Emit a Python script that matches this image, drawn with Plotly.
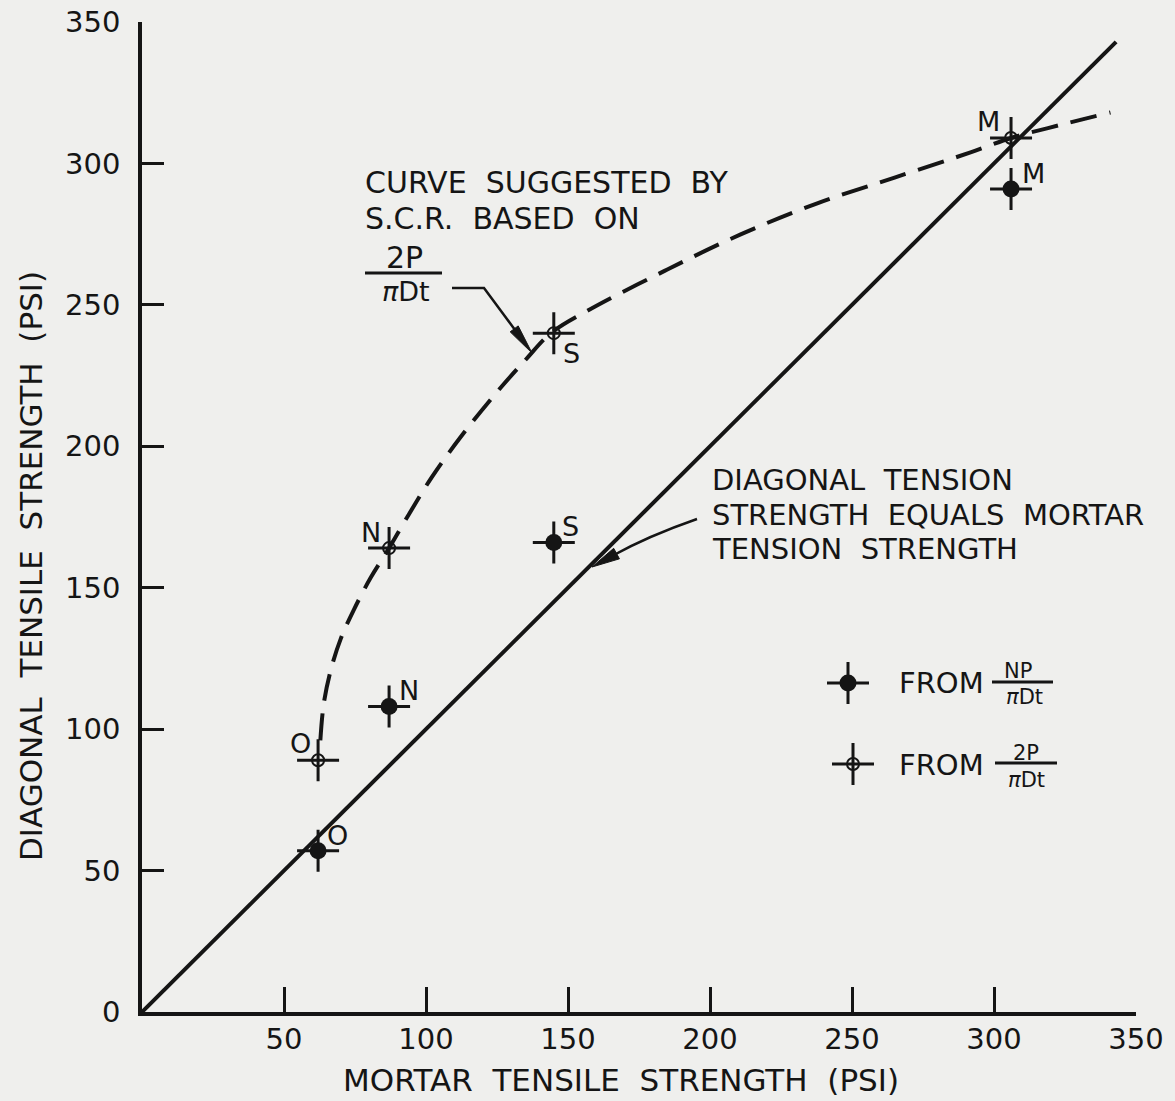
import plotly.graph_objects as go

# ---- data -------------------------------------------------------------
mortar_types = ["O", "N", "S", "M"]
mortar_tensile = [62, 87, 145, 306]          # mortar tensile strength, psi
diag_tensile_np = [57, 108, 166, 291]        # diagonal tensile strength from NP/(pi D t)
diag_tensile_2p = [89, 164, 240, 309]        # diagonal tensile strength from 2P/(pi D t)

# curve suggested by S.C.R. through the 2P/(pi D t) results
scr_curve_x = [62.8, 64, 66.5, 70, 74.5, 80.5, 87, 94, 102, 112, 124, 135, 144,
               157, 184, 211, 238, 265, 292, 306, 319, 341]
scr_curve_y = [96, 109, 121, 132, 142, 153.5, 164, 176, 189, 203, 218, 230.5, 240,
               248, 262, 275, 286, 295, 304, 309, 312.5, 318]

# line of equality: diagonal tension strength = mortar tension strength
equality_x = [0, 343]
equality_y = [0, 343]

x_ticks = [50, 100, 150, 200, 250, 300, 350]
y_ticks = [0, 50, 100, 150, 200, 250, 300, 350]

# ---- styling ----------------------------------------------------------
INK = "#151515"
PAPER = "#efefed"
FONT = "DejaVu Sans"
W, H = 1175, 1101


def fx(px):
    return px / W


def fy(py):
    return 1 - py / H


fig = go.Figure()

fig.add_trace(go.Scatter(x=equality_x, y=equality_y, mode="lines",
                         line=dict(color=INK, width=4), hoverinfo="skip"))
fig.add_trace(go.Scatter(x=scr_curve_x, y=scr_curve_y, mode="lines",
                         line=dict(color=INK, width=4, dash="27px,13px",
                                   shape="spline", smoothing=1.0),
                         hoverinfo="skip"))

cross = dict(symbol="cross-thin", size=30, color=INK, line=dict(color=INK, width=3))
filled = dict(symbol="circle", size=17, color=INK)
hollow = dict(symbol="circle-open", size=12, color=INK, line=dict(color=INK, width=2))

for ys in (diag_tensile_np, diag_tensile_2p):
    fig.add_trace(go.Scatter(x=mortar_tensile, y=ys, mode="markers", marker=cross))
fig.add_trace(go.Scatter(x=mortar_tensile, y=diag_tensile_np, mode="markers",
                         marker=filled, text=mortar_types))
fig.add_trace(go.Scatter(x=mortar_tensile, y=diag_tensile_2p, mode="markers",
                         marker=hollow, text=mortar_types))

# legend keys, placed on a pixel-space overlay
key_x = [848, 853]
key_y = [683, 764]
fig.add_trace(go.Scatter(x=key_x, y=key_y, mode="markers", marker=cross,
                         xaxis="x2", yaxis="y2"))
fig.add_trace(go.Scatter(x=key_x[:1], y=key_y[:1], mode="markers", marker=filled,
                         xaxis="x2", yaxis="y2"))
fig.add_trace(go.Scatter(x=key_x[1:], y=key_y[1:], mode="markers", marker=hollow,
                         xaxis="x2", yaxis="y2"))

annotations = []
shapes = []


def text(t, px, py, size, xanchor="center", angle=0):
    annotations.append(dict(text=t, x=fx(px), y=fy(py), xref="paper", yref="paper",
                            xanchor=xanchor, yanchor="middle", showarrow=False,
                            textangle=angle, font=dict(family=FONT, size=size, color=INK)))


def bar(x0, x1, py, width=3):
    shapes.append(dict(type="line", xref="paper", yref="paper",
                       x0=fx(x0), x1=fx(x1), y0=fy(py), y1=fy(py),
                       line=dict(color=INK, width=width)))


def arrow_head(tail, tip, length=28, half=5):
    dx, dy = tip[0] - tail[0], tip[1] - tail[1]
    n = (dx * dx + dy * dy) ** 0.5
    ux, uy = dx / n, dy / n
    bx, by = tip[0] - ux * length, tip[1] - uy * length
    px_, py_ = -uy * half, ux * half
    pts = [tip, (bx + px_, by + py_), (bx - px_, by - py_)]
    path = "M " + " L ".join(f"{fx(a):.5f},{fy(b):.5f}" for a, b in pts) + " Z"
    shapes.append(dict(type="path", xref="paper", yref="paper", path=path,
                       fillcolor=INK, line=dict(color=INK, width=1)))


# axis titles
text("DIAGONAL  TENSILE  STRENGTH  (PSI)", 31, 566, 31, angle=-90)
text("MORTAR  TENSILE  STRENGTH  (PSI)", 621, 1080, 31)

# point labels (mortar type next to each mark)
np_shift = [(19, 15), (20, 16), (17, 16), (22, 15)]
p2_shift = [(-18, 17), (-18, 16), (18, -20), (-23, 16)]
for xs_, ys_, shifts in ((mortar_tensile, diag_tensile_np, np_shift),
                         (mortar_tensile, diag_tensile_2p, p2_shift)):
    for name, xv, yv, (sx, sy) in zip(mortar_types, xs_, ys_, shifts):
        annotations.append(dict(text=name, x=xv, y=yv, xref="x", yref="y",
                                xshift=sx, yshift=sy, showarrow=False,
                                font=dict(family=FONT, size=27, color=INK)))

# curve note
text("CURVE  SUGGESTED  BY", 363, 182, 30, xanchor="left")
text("S.C.R.  BASED  ON", 363, 218, 30, xanchor="left")
text("2P", 404, 257, 30)
bar(365, 442, 273)
text("<i>π</i>Dt", 406, 292, 27)
shapes.append(dict(type="path", xref="paper", yref="paper",
                   path=f"M {fx(452)},{fy(288)} L {fx(484)},{fy(288)} L {fx(518)},{fy(334)}",
                   line=dict(color=INK, width=2.5)))
arrow_head((484, 288), (532, 353), length=30, half=5)

# equality line note
text("DIAGONAL  TENSION", 710, 480, 29, xanchor="left")
text("STRENGTH  EQUALS  MORTAR", 710, 514.5, 29, xanchor="left")
text("TENSION  STRENGTH", 710, 549, 29, xanchor="left")
shapes.append(dict(type="path", xref="paper", yref="paper",
                   path=f"M {fx(697)},{fy(519)} Q {fx(648)},{fy(536)} {fx(612)},{fy(556)}",
                   line=dict(color=INK, width=2.5)))
arrow_head((645, 538), (592, 567), length=28, half=6)

# legend text
text("FROM", 897, 683, 29, xanchor="left")
text("NP", 1018, 671, 21)
bar(992, 1053, 682)
text("<i>π</i>Dt", 1024, 697, 21)
text("FROM", 897, 765, 29, xanchor="left")
text("2P", 1026, 753, 21)
bar(995, 1057, 763)
text("<i>π</i>Dt", 1026, 780, 21)

axis_common = dict(showgrid=False, zeroline=False, showline=True, linecolor=INK,
                   linewidth=3.5, ticks="inside", tickcolor=INK, tickwidth=3,
                   tickfont=dict(family=FONT, size=29, color=INK), fixedrange=True,
                   automargin=False)

fig.update_layout(
    width=W, height=H, autosize=False,
    margin=dict(l=0, r=0, t=0, b=0, pad=0, autoexpand=False),
    paper_bgcolor=PAPER, plot_bgcolor="rgba(0,0,0,0)",
    showlegend=False,
    xaxis=dict(domain=[fx(142), fx(1136)], range=[0, 350], tickvals=x_ticks,
               ticklen=25, ticklabelstandoff=-2, anchor="y", **axis_common),
    yaxis=dict(domain=[fy(1012), fy(22)], range=[0, 350], tickvals=y_ticks,
               ticklen=22, ticklabelstandoff=12, anchor="x", **axis_common),
    xaxis2=dict(domain=[0, 1], range=[0, W], visible=False, anchor="y2", fixedrange=True),
    yaxis2=dict(domain=[0, 1], range=[H, 0], visible=False, anchor="x2", fixedrange=True),
    annotations=annotations,
    shapes=shapes,
)

fig.write_html("out.html")
